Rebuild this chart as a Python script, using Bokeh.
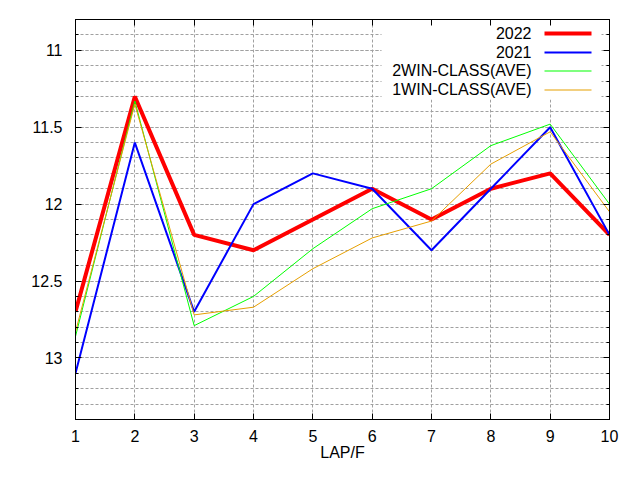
from bokeh.plotting import figure
from bokeh.models import (Range1d, SingleIntervalTicker, LinearAxis, NumeralTickFormatter,
                          BoxAnnotation, Label)
from bokeh.embed import file_html
from bokeh.resources import INLINE

# LAP/F : temps par tranche de 200m
laps = [1, 2, 3, 4, 5, 6, 7, 8, 9, 10]
y2022 = [12.7, 11.3, 12.2, 12.3, 12.1, 11.9, 12.1, 11.9, 11.8, 12.2]
y2021 = [13.1, 11.6, 12.7, 12.0, 11.8, 11.9, 12.3, 11.9, 11.5, 12.2]
win2_ave = [12.86, 11.33, 12.79, 12.6, 12.29, 12.03, 11.9, 11.62, 11.48, 12.0]
win1_ave = [12.83, 11.35, 12.72, 12.67, 12.42, 12.22, 12.11, 11.74, 11.53, 12.05]

series = [
    ("2022", y2022, "#ff0000", 4),
    ("2021", y2021, "#0000ff", 2),
    ("2WIN-CLASS(AVE)", win2_ave, "#00ff00", 1),
    ("1WIN-CLASS(AVE)", win1_ave, "#e69f00", 1),
]

FONT = "Liberation Sans"
GRID = "#a0a0a0"

p = figure(width=624, height=464, output_backend="svg", toolbar_location=None,
           x_range=Range1d(1, 10), y_range=Range1d(13.4, 10.8),
           min_border_left=75, min_border_right=15, min_border_top=19, min_border_bottom=45,
           x_axis_label="LAP/F")
p.outline_line_color = "black"
p.background_fill_color = "white"
p.border_fill_color = "white"

xticker = SingleIntervalTicker(interval=1, num_minor_ticks=0)
yticker = SingleIntervalTicker(interval=0.5, num_minor_ticks=5)
bottom = p.below[0]
left = p.left[0]
bottom.ticker = xticker
left.ticker = yticker
left.formatter = NumeralTickFormatter(format="0.[0]")

# axes mirroir (haut / droite), graduations seules
top = LinearAxis(ticker=xticker)
right = LinearAxis(ticker=yticker)
p.add_layout(top, "above")
p.add_layout(right, "right")

for ax in [bottom, left, top, right]:
    ax.axis_line_color = "black"
    ax.major_tick_in = 6
    ax.major_tick_out = 0
    ax.minor_tick_in = 3
    ax.minor_tick_out = 0
    ax.major_tick_line_color = "black"
    ax.minor_tick_line_color = "black"
    ax.major_label_text_font = FONT
    ax.major_label_text_font_size = "16px"
    ax.major_label_text_color = "black"

for ax in [top, right]:
    ax.major_label_text_font_size = "1px"
    ax.major_label_text_color = None
    ax.major_label_standoff = 0

bottom.major_label_standoff = 10
bottom.axis_label_standoff = -1
bottom.axis_label_text_font = FONT
bottom.axis_label_text_font_size = "16px"
bottom.axis_label_text_font_style = "normal"
bottom.axis_label_text_color = "black"
left.major_label_standoff = 13

p.xgrid.grid_line_color = GRID
p.xgrid.grid_line_dash = "3 2"
p.ygrid.grid_line_color = GRID
p.ygrid.grid_line_dash = "3 2"
p.ygrid.minor_grid_line_color = GRID
p.ygrid.minor_grid_line_dash = "3 2"

for name, ys, color, lw in series:
    p.line(laps, ys, line_color=color, line_width=lw)

# legende facon gnuplot : texte aligne a droite, echantillon a droite
p.add_layout(BoxAnnotation(left=306, right=526, bottom=320, top=400,
                           left_units="screen", right_units="screen",
                           bottom_units="screen", top_units="screen",
                           fill_color="white", fill_alpha=1, line_color=None,
                           level="glyph"))
row_y = [387, 368, 349, 330]
for (name, ys, color, lw), ry in zip(series, row_y):
    p.add_layout(Label(x=456, y=ry, x_units="screen", y_units="screen", text=name,
                       text_align="right", text_baseline="middle",
                       text_font=FONT, text_font_size="16px", text_color="black"))
    half = max(lw // 2, 0)
    p.add_layout(BoxAnnotation(left=469, right=516, bottom=ry - half - 1, top=ry - half - 1 + lw,
                               left_units="screen", right_units="screen",
                               bottom_units="screen", top_units="screen",
                               fill_color=color, fill_alpha=1, line_color=None))

open("out.html", "w").write(file_html(p, INLINE))
